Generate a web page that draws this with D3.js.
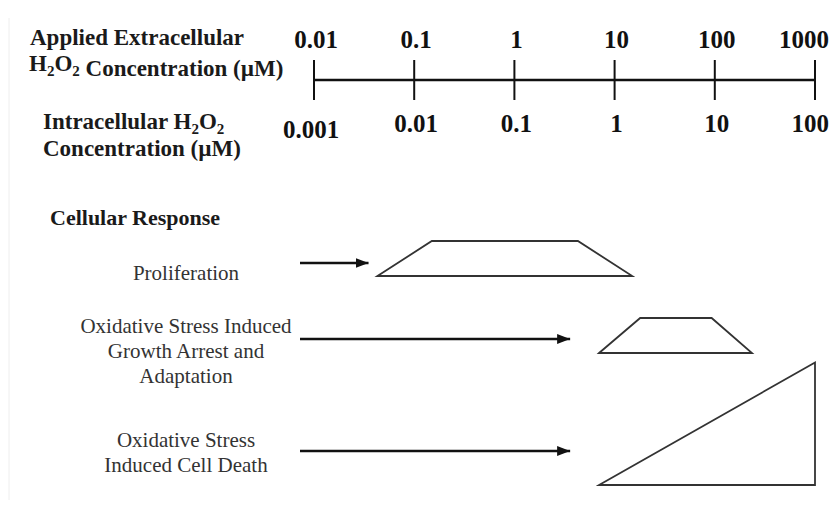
<!DOCTYPE html>
<html>
<head>
<meta charset="utf-8">
<script src="https://cdn.jsdelivr.net/npm/d3@7"></script>
<style>
  body { margin: 0; background: #fff; }
  svg text { font-family: "Liberation Serif", "Times New Roman", serif; }
  .num { font-weight: bold; font-size: 25px; fill: #111; }
  .title { font-weight: bold; font-size: 23px; fill: #1a1a1a; }
  .lbl { font-size: 21px; fill: #333; }
</style>
</head>
<body>
<div id="chart"></div>
<script>
// extracellular / intracellular concentration ticks (uM)
var extTicks = [0.01, 0.1, 1, 10, 100, 1000];
var intTicks = ['0.001', '0.01', '0.1', '1', '10', '100'];

// cellular responses, label lines
var responses = ['Proliferation', 'Growth Arrest', 'Cell Death'];
var labelLines = [
  ['Proliferation'],
  ['Oxidative Stress Induced', 'Growth Arrest and', 'Adaptation'],
  ['Oxidative Stress', 'Induced Cell Death']
];

// response shapes: [applied conc (uM), relative magnitude]
var prolifShape = [[0.043, 0], [0.15, 1], [4.3, 1], [15, 0]];
var arrestShape = [[7, 0], [18, 1], [93, 1], [235, 0]];
var deathShape = [[7, 0], [1000, 3.5], [1000, 0]];
var shapes = [prolifShape, arrestShape, deathShape];

// where each arrow points to (applied conc, uM)
var arrowTo = [0.035, 3.6, 3.6];

const dims = { width: 833, height: 511, axisY: 80, tick: 20 };

const svg = d3.select('#chart').append('svg')
  .attr('width', dims.width)
  .attr('height', dims.height);

svg.append('defs').append('marker')
  .attr('id', 'head')
  .attr('viewBox', '0 0 13 10')
  .attr('refX', 13).attr('refY', 5)
  .attr('markerWidth', 13).attr('markerHeight', 10)
  .attr('markerUnits', 'userSpaceOnUse')
  .attr('orient', 'auto')
  .append('path')
  .attr('d', 'M0,0L13,5L0,10Z')
  .attr('fill', '#111');

// faint scan edge on the left
svg.append('line')
  .attr('x1', 9).attr('x2', 9).attr('y1', 18).attr('y2', 500)
  .attr('stroke', '#eee').attr('stroke-width', 1);

const x = d3.scaleLog().domain([0.01, 1000]).range([314, 815]);

// AXIS
const axisG = svg.append('g');
axisG.append('line')
  .attr('x1', x(extTicks[0])).attr('x2', x(extTicks[extTicks.length - 1]))
  .attr('y1', dims.axisY).attr('y2', dims.axisY)
  .attr('stroke', '#111').attr('stroke-width', 2.6);

axisG.selectAll('line.tick')
  .data(extTicks)
  .enter().append('line')
  .attr('class', 'tick')
  .attr('x1', d => x(d)).attr('x2', d => x(d))
  .attr('y1', dims.axisY - dims.tick).attr('y2', dims.axisY + dims.tick)
  .attr('stroke', '#111').attr('stroke-width', 2);

function tickLabelX(i) {
  // last labels are pulled in so they stay on the page
  return i === extTicks.length - 1 ? 829 : x(extTicks[i]) + 2;
}

axisG.selectAll('text.top')
  .data(extTicks)
  .enter().append('text')
  .attr('class', 'num top')
  .attr('text-anchor', (d, i) => i === extTicks.length - 1 ? 'end' : 'middle')
  .attr('x', (d, i) => tickLabelX(i))
  .attr('y', 48)
  .text(d => d);

axisG.selectAll('text.bot')
  .data(intTicks)
  .enter().append('text')
  .attr('class', 'num bot')
  .attr('text-anchor', (d, i) => i === intTicks.length - 1 ? 'end' : 'middle')
  .attr('x', (d, i) => i === 0 ? x(extTicks[0]) - 3 : tickLabelX(i))
  .attr('y', (d, i) => i === 0 ? 138 : 132)
  .text(d => d);

// AXIS TITLES
function h2o2(t) {
  t.append('tspan').text('H');
  t.append('tspan').attr('font-size', '15px').attr('dy', 5).text('2');
  t.append('tspan').attr('dy', -5).text('O');
  t.append('tspan').attr('font-size', '15px').attr('dy', 5).text('2');
  t.append('tspan').attr('dy', -5).text('');
}

svg.append('text').attr('class', 'title').attr('x', 30).attr('y', 45)
  .text('Applied Extracellular');
const t2 = svg.append('text').attr('class', 'title').attr('x', 29).attr('y', 71);
h2o2(t2);
t2.append('tspan').text(' Concentration (\u00b5M)');

const t3 = svg.append('text').attr('class', 'title').attr('x', 43).attr('y', 129);
t3.append('tspan').text('Intracellular ');
h2o2(t3);
svg.append('text').attr('class', 'title').attr('x', 43).attr('y', 156)
  .text('Concentration (\u00b5M)');

svg.append('text').attr('class', 'title').attr('x', 50).attr('y', 225)
  .style('font-size', '22px')
  .text('Cellular Response');

// RESPONSES
const rowBase = [276, 353, 485];
const arrowY = [263, 339, 451];
const labelY = [280, 333, 447];
const unit = 35; // px per unit of relative magnitude

const rows = svg.selectAll('g.row')
  .data(responses)
  .enter().append('g')
  .attr('class', 'row');

rows.each(function(d, i) {
  const g = d3.select(this);
  const y = d3.scaleLinear().domain([0, 1]).range([rowBase[i], rowBase[i] - unit]);

  g.append('text')
    .attr('class', 'lbl')
    .attr('text-anchor', 'middle')
    .selectAll('tspan')
    .data(labelLines[i])
    .enter().append('tspan')
    .attr('x', 186)
    .attr('y', (l, j) => labelY[i] + j * 25)
    .text(l => l);

  g.append('line')
    .attr('x1', 300).attr('x2', x(arrowTo[i]))
    .attr('y1', arrowY[i]).attr('y2', arrowY[i])
    .attr('stroke', '#111').attr('stroke-width', 2.4)
    .attr('marker-end', 'url(#head)');

  g.append('path')
    .attr('d', d3.line().x(p => x(p[0])).y(p => y(p[1]))(shapes[i]) + 'Z')
    .attr('fill', 'none')
    .attr('stroke', '#333')
    .attr('stroke-width', 1.8)
    .attr('stroke-linejoin', 'miter');
});
</script>
</body>
</html>
